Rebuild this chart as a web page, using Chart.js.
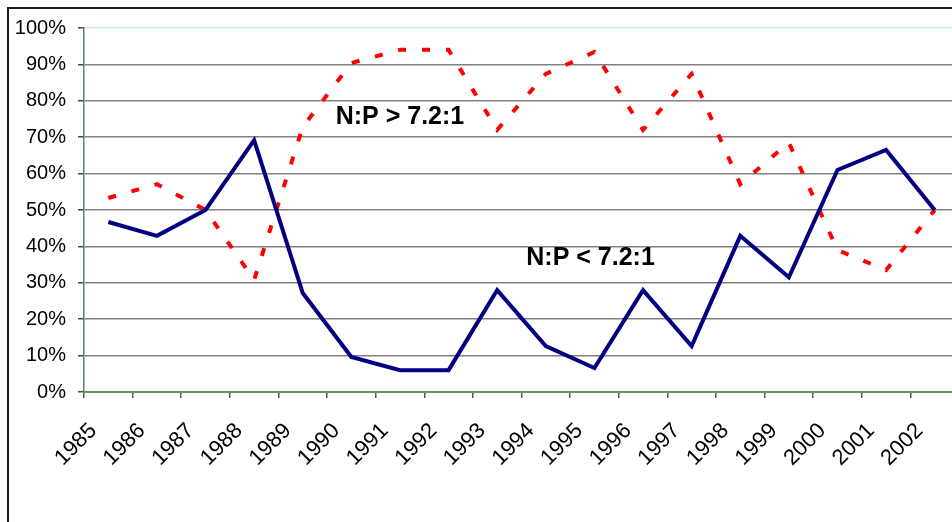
<!DOCTYPE html>
<html><head><meta charset="utf-8">
<script src="https://cdn.jsdelivr.net/npm/chart.js@4/dist/chart.umd.min.js"></script>
<style>
html,body{margin:0;padding:0;overflow:hidden;background:#fff;width:952px;height:522px}
#wrap{position:absolute;left:0;top:0;width:989px;height:522px}
</style>
</head><body>
<div id="wrap"><canvas id="c" width="989" height="522"></canvas></div>
<script>
// Data
const years = ['1985','1986','1987','1988','1989','1990','1991','1992','1993','1994','1995','1996','1997','1998','1999','2000','2001','2002'];
const belowPct = [46.7, 42.9, 50.0, 69.2, 27.2, 9.6, 6.0, 6.0, 28.0, 12.6, 6.6, 28.0, 12.6, 42.9, 31.5, 61.0, 66.5, 50.0];
const abovePct = [53.3, 57.1, 50.0, 30.8, 72.8, 90.4, 94.0, 94.0, 72.0, 87.4, 93.4, 72.0, 87.4, 57.1, 68.5, 39.0, 33.5, 50.0];
const seriesNames = ['N:P < 7.2:1', 'N:P > 7.2:1'];
const yMin = 0, yMax = 100, yStep = 10;
// annotation anchors in data units (category index, percent)
const noteTexts = ['N:P > 7.2:1', 'N:P < 7.2:1'];
const noteX = [6, 9.92];
const noteY = [75.5, 36.8];

const FONT = "'Liberation Sans', Arial, sans-serif";

const framePlugin = {
  id: 'frame',
  beforeDraw(chart) {
    const ctx = chart.ctx;
    ctx.save();
    ctx.fillStyle = '#ffffff';
    ctx.fillRect(0, 0, chart.width, chart.height);
    ctx.fillStyle = '#1a1a1a';
    ctx.fillRect(7, 7, 2, chart.height);
    ctx.fillRect(7, 7, chart.width, 2);
    ctx.restore();
  }
};

const notesPlugin = {
  id: 'notes',
  afterDatasetsDraw(chart) {
    const ctx = chart.ctx;
    const xs = chart.scales.x, ys = chart.scales.y;
    ctx.save();
    ctx.font = 'bold 25px ' + FONT;
    ctx.fillStyle = '#000';
    ctx.textAlign = 'center';
    ctx.textBaseline = 'middle';
    for (let i = 0; i < noteTexts.length; i++) {
      ctx.fillText(noteTexts[i], xs.getPixelForValue(noteX[i]), ys.getPixelForValue(noteY[i]));
    }
    ctx.restore();
  }
};

new Chart(document.getElementById('c'), {
  type: 'line',
  data: {
    labels: years,
    datasets: [
      { label: seriesNames[0], data: belowPct, borderColor: '#000080', borderWidth: 4,
        pointRadius: 0, tension: 0, fill: false },
      { label: seriesNames[1], data: abovePct, borderColor: '#ff0000', borderWidth: 4,
        borderDash: [8, 16], pointRadius: 0, tension: 0, fill: false }
    ]
  },
  options: {
    responsive: false,
    animation: false,
    devicePixelRatio: 1,
    layout: { padding: { left: 0, top: 28, right: 30, bottom: 0 } },
    plugins: { legend: { display: false }, tooltip: { enabled: false } },
    scales: {
      x: {
        type: 'category',
        offset: true,
        grid: { offset: true, drawOnChartArea: false, drawTicks: true, tickLength: 6,
                tickColor: '#555555', lineWidth: 1.5 },
        border: { color: '#6b8e6b', width: 2 },
        ticks: { autoSkip: false, minRotation: 45, maxRotation: 45, padding: 20, labelOffset: -15,
                 color: '#000', font: { family: FONT, size: 22 } },
        afterFit(a) { a.height = 130; }
      },
      y: {
        min: yMin, max: yMax,
        grid: { color: (c) => (c.tick && c.tick.value === yMax) ? '#c8f5c8' : '#808080',
                lineWidth: 1.5, tickLength: 6, tickColor: '#444444' },
        border: { color: '#5f7f5f', width: 1.5 },
        ticks: { stepSize: yStep, padding: 12, color: '#000', font: { family: FONT, size: 20 },
                 callback: (v) => v + '%' },
        afterFit(a) { a.width = 84; }
      }
    }
  },
  plugins: [framePlugin, notesPlugin]
});
</script>
</body></html>
